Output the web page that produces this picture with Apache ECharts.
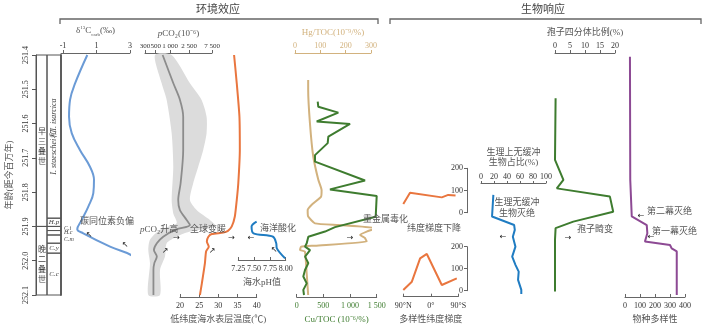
<!DOCTYPE html>
<html>
<head>
<meta charset="utf-8">
<script src="https://cdn.jsdelivr.net/npm/echarts@6/dist/echarts.min.js"></script>
<style>
  html, body { margin: 0; padding: 0; background: #fff; }
  #chart { width: 703px; height: 329px; }
</style>
</head>
<body>
<div id="chart"></div>
<script>
// ---- data (age in Ma, older downward) ----
const ageTicks = [251.4, 251.5, 251.6, 251.7, 251.8, 251.9, 252.0, 252.1];

// stratigraphic column
const eraName = ['早\n三\n叠\n世', '晚\n二\n叠\n世'];
const eraTop = [251.4, 251.9];
const eraBot = [251.9, 252.1];
const zoneName = ['I. staeschei和I. isarcica', 'H.p', 'C.i', 'H.c', 'C.m', 'C.y', 'C.c'];
const zoneTop = [251.4, 251.876, 251.9, 251.912, 251.925, 251.949, 251.978];
const zoneBot = [251.876, 251.9, 251.912, 251.925, 251.949, 251.978, 252.1];

// δ13C carb (‰)
const d13cAge = [251.40, 251.483, 251.531, 251.580, 251.628, 251.677, 251.726, 251.764, 251.803, 251.842, 251.881, 251.908, 251.920, 251.959, 251.988, 252.007, 252.10];
const d13cVal = [0.45, -0.28, -0.58, -0.64, -0.48, 0.01, 0.61, 0.85, 0.81, 0.51, 0.12, -0.15, 0.21, 1.81, 3.2, 3.3, 3.3];

// pCO2 (ppm): median and uncertainty band
const co2Ticks = [300, 500, 1000, 2500, 7500];
const co2Age = [251.40, 251.4825, 251.531, 251.58, 251.677, 251.774, 251.823, 251.852, 251.881, 251.896, 251.910, 251.930, 251.949, 251.969, 251.988, 252.007, 252.027, 252.10];
const co2Mid = [700, 1170, 1610, 1880, 1880, 1660, 1480, 1600, 2220, 2600, 1270, 720, 530, 460, 530, 470, 450, 450];
const co2HiAge = [251.40, 251.4825, 251.531, 251.58, 251.628, 251.677, 251.726, 251.774, 251.823, 251.852, 251.881, 251.900, 251.915, 251.930, 251.949, 251.988, 252.027, 252.10];
const co2Hi = [1080, 2600, 4550, 5780, 5780, 4920, 3870, 3040, 2600, 3580, 6780, 9000, 2600, 1370, 850, 783, 617, 617];
const co2LoAge = [251.40, 251.4825, 251.531, 251.628, 251.726, 251.823, 251.862, 251.891, 251.910, 251.939, 251.969, 252.007, 252.10];
const co2Lo = [484, 668, 850, 1080, 1167, 1080, 1167, 1370, 617, 381, 352, 381, 352];

// low-latitude sea surface temperature (°C)
const tempAge = [251.40, 251.4825, 251.58, 251.677, 251.774, 251.823, 251.871, 251.900, 251.913, 251.918, 251.922, 251.930, 251.944, 251.959, 251.973, 252.007, 252.066, 252.10];
const tempVal = [34.1, 34.8, 35.5, 35.6, 35.2, 34.8, 34.3, 33.5, 32.5, 31.3, 28.3, 27.4, 27.0, 27.5, 26.8, 26.5, 25.7, 25.2];

// seawater pH
const phAge = [251.886, 251.900, 251.920, 251.930, 251.949, 251.964, 251.993];
const phVal = [7.54, 7.46, 7.49, 7.80, 7.85, 7.86, 7.99];

// Hg/TOC (10^-9/%)
const hgAge = [251.473, 251.502, 251.599, 251.696, 251.764, 251.794, 251.813, 251.837, 251.852, 251.871, 251.891, 251.896, 251.905, 251.915, 251.925, 251.934, 251.944, 251.956, 251.959, 251.969, 251.973, 252.036, 252.10];
const hgVal = [52, 52, 59, 72, 92, 105, 103, 66, 50, 52, 79, 171, 322, 283, 257, 276, 283, 79, 24, 20, 39, 46, 52];

// Cu/TOC (10^-6/%)
const cuAge = [251.536, 251.551, 251.568, 251.594, 251.601, 251.638, 251.657, 251.692, 251.711, 251.766, 251.792, 251.811, 251.872, 251.902, 251.915, 251.930, 251.949, 251.959, 251.969, 251.988, 252.007, 252.027, 252.046, 252.066, 252.085, 252.10];
const cuVal = [394, 405, 780, 375, 1000, 593, 581, 343, 343, 1281, 624, 1500, 1481, 718, 531, 218, 188, 156, 250, 156, 218, 156, 124, 188, 124, 137];

// diversity latitudinal gradient (upper: after, lower: before)
const latUpLat = [-90, -68, 36, 57, 81];
const latUpVal = [39, 90, 69, 80, 77];
const latLoLat = [-90, -62, -35, -13, 36, 85];
const latLoVal = [3, 41, 147, 167, 26, 56];

// physiologically unbuffered organisms (%)
const unbAge = [251.808, 251.871, 251.896, 251.910, 251.930, 251.959, 251.988, 252.012, 252.032, 252.056, 252.085, 252.097];
const unbVal = [19, 17, 51, 52, 49, 53, 48, 53, 58, 57, 62, 62];

// spore tetrads (%)
const sporeAge = [251.526, 251.706, 251.764, 251.789, 251.813, 251.857, 251.886, 251.905, 251.939, 252.09];
const sporeVal = [0.2, 0, 2.8, 0.6, 18.3, 19.4, 6.1, 0.2, 0, 0];

// species diversity
const divAge = [251.405, 251.764, 251.871, 251.896, 251.920, 251.944, 251.954, 251.964, 251.973, 252.10];
const divVal = [33, 35, 45, 145, 149, 133, 300, 311, 345, 345];

// ---- styles ----
const FONT = '"Liberation Serif", "Noto Sans CJK SC", serif';
const AX = '#666';
const TXT = '#555';
const C_BLUE = '#6b9bd6', C_GRAY = '#8c8c8c', C_BAND = '#dcdcdc', C_ORANGE = '#e9763f';
const C_PH = '#1f7cc2', C_TAN = '#d2b27e', C_GREEN = '#3e7c2f', C_PURPLE = '#8d4a94';

const spaced = v => String(Math.round(v)).replace(/\B(?=(\d{3})+(?!\d))/g, ' ');

function pair(xs, ys) { return xs.map((x, i) => [x, ys[i]]); }

function ageAxis(grid) {
  return { type: 'value', gridIndex: grid, min: 251.4, max: 252.1, inverse: true, show: false };
}

function vAxis(grid, pos, min, max, interval, more) {
  more = more || {};
  const base = {
    type: 'value', gridIndex: grid, position: pos, min: min, max: max, interval: interval,
    axisLine: { show: true, onZero: false, lineStyle: { color: AX, width: 1 } },
    axisTick: { show: true, length: 3, inside: pos === 'bottom', lineStyle: { color: AX } },
    axisLabel: { fontSize: 8, color: '#333', fontFamily: FONT, margin: pos === 'top' ? 3 : 5 },
    splitLine: { show: false },
    nameLocation: 'middle',
    nameTextStyle: { fontSize: 9, color: TXT, fontFamily: FONT }
  };
  Object.keys(more).forEach(k => {
    if (base[k] && typeof base[k] === 'object' && typeof more[k] === 'object') {
      base[k] = Object.assign({}, base[k], more[k]);
    } else {
      base[k] = more[k];
    }
  });
  return base;
}

function lineSeries(xi, yi, data, color, more) {
  return Object.assign({
    type: 'line', xAxisIndex: xi, yAxisIndex: yi, data: data, symbol: 'none', clip: false,
    lineStyle: { color: color, width: 2 }, silent: true, z: 5
  }, more || {});
}

// column cells
const colCells = [];
eraName.forEach((n, i) => colCells.push({ v: [0, 0.44, eraTop[i], eraBot[i]], name: n, mode: 'stack' }));
zoneName.forEach((n, i) => {
  let mode = 'in';
  if (i === 0) mode = 'rot';
  if (n === 'C.i' || n === 'H.c' || n === 'C.m') mode = 'out';
  colCells.push({ v: [0.44, 1, zoneTop[i], zoneBot[i]], name: n, mode: mode });
});

function renderColumn(params, api) {
  const p0 = api.coord([api.value(0), api.value(2)]);
  const p1 = api.coord([api.value(1), api.value(3)]);
  const cell = colCells[params.dataIndex];
  const cx = (p0[0] + p1[0]) / 2, cy = (p0[1] + p1[1]) / 2;
  const children = [{
    type: 'rect',
    shape: { x: p0[0], y: p0[1], width: p1[0] - p0[0], height: p1[1] - p0[1] },
    style: { fill: 'none', stroke: '#555', lineWidth: 1 }
  }];
  const ts = { text: cell.name, fill: '#444', fontFamily: FONT, align: 'center', verticalAlign: 'middle' };
  if (cell.mode === 'stack') {
    children.push({ type: 'text', x: cx + 0.5, y: cy + (params.dataIndex === 0 ? 6 : 4), style: Object.assign(ts, { fontSize: 8, lineHeight: 10 }) });
  } else if (cell.mode === 'rot') {
    children.push({ type: 'text', x: cx, y: cy, rotation: Math.PI / 2, style: Object.assign(ts, { fontSize: 8, fontStyle: 'italic' }) });
  } else if (cell.mode === 'out') {
    children.push({ type: 'text', x: p1[0] + 3, y: cy, style: Object.assign(ts, { fontSize: 6, fontStyle: 'italic', align: 'left' }) });
  } else {
    children.push({ type: 'text', x: cx, y: cy, style: Object.assign(ts, { fontSize: 7, fontStyle: 'italic' }) });
  }
  return { type: 'group', children: children };
}

function renderBand(params, api) {
  const pts = [];
  co2HiAge.forEach((a, i) => pts.push(api.coord([Math.log10(co2Hi[i]), a])));
  for (let i = co2LoAge.length - 1; i >= 0; i--) pts.push(api.coord([Math.log10(co2Lo[i]), co2LoAge[i]]));
  return { type: 'polygon', shape: { points: pts, smooth: 0.25 }, style: { fill: C_BAND, stroke: 'none' } };
}

// ---- annotations ----
const arrowFont = '"DejaVu Sans", sans-serif';
function note(text, x, y, more) {
  return Object.assign({
    type: 'text', x: x, y: y, z: 100, silent: true,
    style: Object.assign({ text: text, fontSize: 9, fill: TXT, fontFamily: FONT, align: 'left', verticalAlign: 'middle' }, (more && more.style) || {})
  }, more && more.rotation ? { rotation: more.rotation } : {});
}
function arrow(ch, x, y) {
  return note(ch, x, y, { style: { fontSize: 8, fill: '#222', fontFamily: arrowFont, align: 'center' } });
}

const graphics = [
  note('环境效应', 218, 10, { style: { fontSize: 11, align: 'center', fill: '#444' } }),
  note('生物响应', 543, 10, { style: { fontSize: 11, align: 'center', fill: '#444' } }),
  { type: 'polyline', shape: { points: [[60, 24], [60, 19], [378, 19], [378, 24]] }, style: { stroke: AX, lineWidth: 1.3, fill: 'none' }, silent: true },
  { type: 'polyline', shape: { points: [[390, 24], [390, 19], [701, 19], [701, 24]] }, style: { stroke: AX, lineWidth: 1.3, fill: 'none' }, silent: true },
  note('碳同位素负偏', 80, 222),
  arrow('↖', 89, 235), arrow('↖', 125, 245),
  note('{i|p}CO₂升高', 140, 230, { style: { rich: { i: { fontStyle: 'italic', fontSize: 9, fill: TXT, fontFamily: FONT } } } }),
  note('全球变暖', 190, 230),
  arrow('→', 176.5, 238), arrow('→', 231.5, 238), arrow('←', 251, 238),
  arrow('↗', 165, 251), arrow('↗', 212, 251),
  note('海洋酸化', 260, 229),
  arrow('↖', 274, 250),
  note('重金属毒化', 363, 220),
  arrow('→', 350, 238),
  note('纬度梯度下降', 407, 229),
  note('生理无缓冲', 517, 203, { style: { align: 'center' } }),
  note('生物灭绝', 517, 214, { style: { align: 'center' } }),
  arrow('←', 503, 237),
  note('孢子畸变', 577, 230),
  arrow('→', 568, 238),
  note('第二幕灭绝', 647, 212),
  arrow('←', 641, 216),
  note('第一幕灭绝', 652, 232),
  arrow('←', 651, 237)
];

// ---- grids ----
const T = 55, B = 34;
const grid = [
  { left: 36, width: 25, top: T, bottom: B },           // 0 column
  { left: 61, width: 69, top: T, bottom: B },           // 1 d13C
  { left: 145, width: 67, top: T, bottom: B },          // 2 pCO2
  { left: 180, width: 76.7, top: T, bottom: B },        // 3 temperature
  { left: 238.3, width: 47.4, top: T, bottom: B },      // 4 pH
  { left: 295, width: 76, top: T, bottom: B },          // 5 Hg/TOC
  { left: 296.7, width: 80, top: T, bottom: B },        // 6 Cu/TOC
  { left: 403.3, width: 55, top: 168.3, height: 44.4 }, // 7 lat upper
  { left: 403.3, width: 55, top: 246.7, height: 44 },   // 8 lat lower
  { left: 481, width: 65, top: T, bottom: B },          // 9 unbuffered
  { left: 555, width: 60, top: T, bottom: B },          // 10 spores
  { left: 625, width: 60, top: T, bottom: B }           // 11 diversity
];

const xAxis = [
  { type: 'value', gridIndex: 0, min: 0, max: 1, show: false },
  vAxis(1, 'top', -1.12, 3, null, {
    offset: 2,
    axisTick: { customValues: [-1, 1, 3] },
    axisLabel: { customValues: [-1, 1, 3] },
    name: '{t|δ}{sup|13}{t|C}{sub|carb}{t|(‰)}', nameGap: 13,
    nameTextStyle: { rich: {
      t: { fontSize: 9, color: TXT, fontFamily: FONT, lineHeight: 12 },
      sup: { fontSize: 5, color: TXT, fontFamily: FONT, verticalAlign: 'top', lineHeight: 12 },
      sub: { fontSize: 5, color: TXT, fontFamily: FONT, verticalAlign: 'bottom', lineHeight: 10 }
    } }
  }),
  vAxis(2, 'top', Math.log10(300), Math.log10(7500), null, {
    offset: 2,
    axisTick: { customValues: co2Ticks.map(Math.log10) },
    axisLabel: { customValues: co2Ticks.map(Math.log10), fontSize: 7, formatter: v => spaced(Math.pow(10, v)) },
    name: '{i|p}CO₂(10⁻⁶)', nameGap: 13,
    nameTextStyle: { rich: { i: { fontStyle: 'italic', fontSize: 9, color: TXT, fontFamily: FONT } } }
  }),
  vAxis(3, 'bottom', 20, 40, 5, { offset: 2, name: '低纬度海水表层温度(℃)', nameGap: 18 }),
  vAxis(4, 'bottom', 7.25, 8.0, 0.25, {
    offset: -35, axisLabel: { formatter: v => v.toFixed(2) }, name: '海水pH值', nameGap: 15
  }),
  vAxis(5, 'top', 0, 300, 100, {
    offset: 2,
    axisLine: { lineStyle: { color: C_TAN, width: 1 } },
    axisTick: { lineStyle: { color: C_TAN } },
    axisLabel: { color: C_TAN },
    name: 'Hg/TOC(10⁻⁹/%)', nameGap: 13,
    nameTextStyle: { color: C_TAN }
  }),
  vAxis(6, 'bottom', 0, 1500, 500, {
    offset: 2,
    axisLine: { lineStyle: { color: AX, width: 1 } },
    axisLabel: { color: C_GREEN, formatter: spaced },
    name: 'Cu/TOC (10⁻⁶/%)', nameGap: 18,
    nameTextStyle: { color: C_GREEN }
  }),
  { type: 'value', gridIndex: 7, min: -90, max: 90, show: false },
  vAxis(8, 'bottom', -90, 90, 90, {
    offset: 6,
    axisLabel: { formatter: v => v < 0 ? '90°N' : (v > 0 ? '90°S' : '0°') },
    name: '多样性纬度梯度', nameGap: 18
  }),
  vAxis(9, 'top', 0, 100, 20, {
    offset: -128, axisTick: { length: 2 }, axisLabel: { margin: 2 },
    name: '生理上无缓冲\n生物占比(%)', nameGap: 11,
    nameTextStyle: { lineHeight: 10 }
  }),
  vAxis(10, 'top', 0, 20, 5, { offset: 2, name: '孢子四分体比例(%)', nameGap: 13 }),
  vAxis(11, 'bottom', 0, 400, 100, { offset: 2, name: '物种多样性', nameGap: 18 })
];

function latY(grid) {
  return vAxis(grid, 'right', 0, 200, 100, {
    offset: 8.7,
    axisTick: { inside: true, length: 3 },
    axisLabel: { inside: true, margin: 4 }
  });
}

const yAxis = [
  {
    type: 'value', gridIndex: 0, min: 251.4, max: 252.1, interval: 0.1, inverse: true, position: 'left',
    axisLine: { show: true, onZero: false, lineStyle: { color: '#555', width: 1 } },
    axisTick: { show: true, length: 4, lineStyle: { color: '#555' } },
    axisLabel: { rotate: 90, fontSize: 8, color: '#333', fontFamily: FONT, margin: 6, formatter: v => v.toFixed(1) },
    splitLine: { show: false },
    name: '年龄(距今百万年)', nameLocation: 'middle', nameGap: 22, nameRotate: 90,
    nameTextStyle: { fontSize: 9, color: TXT, fontFamily: FONT }
  },
  {
    type: 'value', gridIndex: 0, min: 251.4, max: 252.1, inverse: true, position: 'right',
    axisLine: { show: true, onZero: false, lineStyle: { color: '#666', width: 2 } },
    axisTick: { show: false }, axisLabel: { show: false }, splitLine: { show: false }
  },
  ageAxis(1), ageAxis(2), ageAxis(3), ageAxis(4), ageAxis(5), ageAxis(6),
  latY(7), latY(8),
  ageAxis(9), ageAxis(10), ageAxis(11)
];

const series = [
  {
    type: 'custom', xAxisIndex: 0, yAxisIndex: 0, renderItem: renderColumn, silent: true,
    encode: { x: [0, 1], y: [2, 3] },
    data: colCells.map(c => c.v)
  },
  lineSeries(1, 2, pair(d13cVal, d13cAge), C_BLUE, { smooth: 0.4 }),
  {
    type: 'custom', xAxisIndex: 2, yAxisIndex: 3, renderItem: renderBand, silent: true, z: 1,
    encode: { x: 0, y: 1 },
    data: [[Math.log10(co2Mid[0]), co2Age[0]]]
  },
  lineSeries(2, 3, pair(co2Mid.map(Math.log10), co2Age), C_GRAY, { smooth: 0.3, lineStyle: { color: C_GRAY, width: 1.8 } }),
  lineSeries(3, 4, pair(tempVal, tempAge), C_ORANGE, { smooth: 0.2 }),
  lineSeries(4, 5, pair(phVal, phAge), C_PH, { smooth: 0.3 }),
  lineSeries(5, 6, pair(hgVal, hgAge), C_TAN, { smooth: 0.15 }),
  lineSeries(6, 7, pair(cuVal, cuAge), C_GREEN, { z: 6 }),
  lineSeries(7, 8, pair(latUpLat, latUpVal), C_ORANGE),
  lineSeries(8, 9, pair(latLoLat, latLoVal), C_ORANGE),
  lineSeries(9, 10, pair(unbVal, unbAge), C_PH),
  lineSeries(10, 11, pair(sporeVal, sporeAge), C_GREEN),
  lineSeries(11, 12, pair(divVal, divAge), C_PURPLE)
];

const chart = echarts.init(document.getElementById('chart'), null, { renderer: 'canvas' });
chart.setOption({
  animation: false,
  backgroundColor: '#fff',
  textStyle: { fontFamily: FONT },
  grid: grid,
  xAxis: xAxis,
  yAxis: yAxis,
  series: series,
  graphic: graphics
});
</script>
</body>
</html>
